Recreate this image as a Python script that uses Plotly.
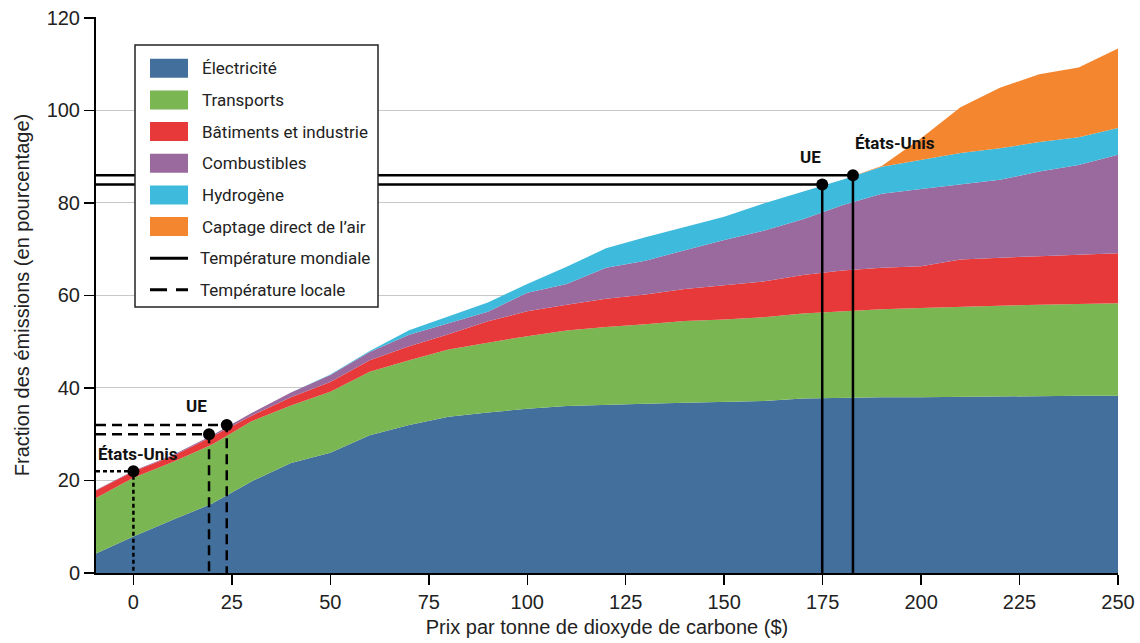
import plotly.graph_objects as go

# Carbon price ($/t CO2)
prix = [-10, 0, 10, 20, 30, 40, 50, 60, 70, 80, 90, 100, 110, 120, 130,
        140, 150, 160, 170, 180, 190, 200, 210, 220, 230, 240, 250]

# Cumulative (stacked) upper boundary of each sector, % of emissions
electricite = [4.0, 7.9, 11.5, 15.0, 19.8, 23.8, 26.0, 29.8, 32.0, 33.8, 34.7, 35.5, 36.1, 36.4,
               36.6, 36.8, 37.0, 37.2, 37.7, 37.9, 38.0, 38.0, 38.1, 38.2, 38.2, 38.3, 38.3]
transports = [16.0, 20.6, 24.0, 27.8, 32.8, 36.2, 39.2, 43.5, 46.0, 48.3, 49.8, 51.2, 52.4, 53.2,
              53.8, 54.5, 54.8, 55.3, 56.1, 56.6, 57.0, 57.3, 57.6, 57.8, 58.0, 58.2, 58.3]
batiments = [17.6, 22.0, 25.3, 29.5, 34.0, 38.0, 41.3, 46.0, 49.0, 51.6, 54.4, 56.6, 58.0, 59.3,
             60.2, 61.4, 62.2, 63.0, 64.4, 65.4, 66.0, 66.3, 67.8, 68.2, 68.5, 68.8, 69.1]
combustibles = [17.7, 22.1, 25.5, 29.8, 34.6, 39.0, 42.8, 47.8, 51.5, 54.0, 56.5, 60.6, 62.5, 66.0,
                67.5, 69.8, 72.0, 74.0, 76.5, 79.5, 82.0, 83.0, 84.0, 85.0, 86.8, 88.2, 90.4]
hydrogene = [17.7, 22.1, 25.5, 29.8, 34.6, 39.0, 42.9, 48.0, 52.5, 55.5, 58.5, 62.5, 66.2, 70.2,
             72.6, 74.8, 77.0, 79.9, 82.5, 85.0, 87.8, 89.3, 90.8, 91.8, 93.2, 94.2, 96.2]
captage = [17.7, 22.1, 25.5, 29.8, 34.6, 39.0, 42.9, 48.0, 52.5, 55.5, 58.5, 62.5, 66.2, 70.2,
           72.6, 74.8, 77.0, 79.9, 82.5, 85.0, 88.0, 94.0, 100.7, 104.9, 107.8, 109.3, 113.4]

secteurs = ["Électricité", "Transports", "Bâtiments et industrie", "Combustibles",
            "Hydrogène", "Captage direct de l’air"]
couleurs = ["#426f9b", "#7ab651", "#e8393a", "#9a6a9f", "#3dbadc", "#f4862f"]
lignes = ["Température mondiale", "Température locale"]

# Break-even points (carbon price, emission fraction)
mondiale_x = [174.9, 182.7]   # UE, États-Unis
mondiale_y = [84.0, 86.0]
locale_ue_x = [19.2, 23.7]
locale_ue_y = [30.0, 32.0]
locale_us_x = [0.0]
locale_us_y = [22.0]

x_ticks = [0, 25, 50, 75, 100, 125, 150, 175, 200, 225, 250]
y_ticks = [0, 20, 40, 60, 80, 100, 120]
X_MIN, X_MAX = -9.5, 250
Y_MIN, Y_MAX = 0, 120.2

fig = go.Figure()

series = [electricite, transports, batiments, combustibles, hydrogene, captage]
for i, (nom, vals, col) in enumerate(zip(secteurs, series, couleurs)):
    fig.add_trace(go.Scatter(
        x=prix, y=vals, name=nom, mode="lines",
        line=dict(width=0, color=col), fillcolor=col,
        fill="tozeroy" if i == 0 else "tonexty",
        showlegend=False, hoverinfo="skip"))

def guide(xs, ys, dash):
    for px, py in zip(xs, ys):
        fig.add_trace(go.Scatter(
            x=[X_MIN, px, px], y=[py, py, 0], mode="lines",
            line=dict(color="black", width=2.5, dash=dash),
            showlegend=False, hoverinfo="skip"))

guide(mondiale_x, mondiale_y, "solid")
guide(locale_ue_x, locale_ue_y, "10px,6px")
guide(locale_us_x, locale_us_y, "4px,3px")

fig.add_trace(go.Scatter(
    x=mondiale_x + locale_ue_x + locale_us_x,
    y=mondiale_y + locale_ue_y + locale_us_y,
    mode="markers", marker=dict(color="black", size=12),
    showlegend=False, hoverinfo="skip", cliponaxis=False))

lab = dict(font=dict(family="Roboto", size=17, color="#111"), showarrow=False)
fig.add_annotation(x=16.0, y=36.0, text="<b>UE</b>", **lab)
fig.add_annotation(x=1.1, y=25.7, text="<b>États-Unis</b>", **lab)
fig.add_annotation(x=171.8, y=89.9, text="<b>UE</b>", **lab)
fig.add_annotation(x=193.3, y=93.0, text="<b>États-Unis</b>", **lab)

# ---- custom legend (paper coordinates of the plot area) ----
PX0, PX1, PY0, PY1 = 96.0, 1118.0, 17.0, 573.0
def xp(px):
    return (px - PX0) / (PX1 - PX0)
def yp(py):
    return (PY1 - py) / (PY1 - PY0)

shapes = [dict(type="rect", xref="paper", yref="paper",
               x0=xp(135), x1=xp(378), y0=yp(307), y1=yp(45),
               line=dict(color="#222", width=1.5), fillcolor="white", layer="above")]
row0, pas = 68.3, 31.65
for i, (nom, col) in enumerate(zip(secteurs, couleurs)):
    cy = row0 + pas * i
    shapes.append(dict(type="rect", xref="paper", yref="paper",
                       x0=xp(150), x1=xp(188), y0=yp(cy + 9.5), y1=yp(cy - 9.5),
                       line=dict(width=0), fillcolor=col, layer="above"))
    fig.add_annotation(xref="paper", yref="paper", x=xp(200), y=yp(cy), text=nom,
                       xanchor="left", yanchor="middle", showarrow=False,
                       font=dict(family="Roboto", size=17, color="#222"))
for j, nom in enumerate(lignes):
    cy = row0 + pas * (len(secteurs) + j)
    shapes.append(dict(type="line", xref="paper", yref="paper",
                       x0=xp(150), x1=xp(188), y0=yp(cy), y1=yp(cy),
                       line=dict(color="black", width=3,
                                 dash="solid" if j == 0 else "17px,9px"),
                       layer="above"))
    fig.add_annotation(xref="paper", yref="paper", x=xp(198), y=yp(cy), text=nom,
                       xanchor="left", yanchor="middle", showarrow=False,
                       font=dict(family="Roboto", size=17, color="#222"))

fig.update_layout(
    width=1140, height=643,
    margin=dict(l=96, r=22, t=17, b=70),
    paper_bgcolor="white", plot_bgcolor="white",
    showlegend=False,
    shapes=shapes,
    xaxis=dict(
        range=[X_MIN, X_MAX], tickvals=x_ticks, automargin=False,
        showline=True, linecolor="black", linewidth=2,
        ticks="outside", ticklen=10, tickwidth=1.5, tickcolor="black",
        showgrid=False, zeroline=False, ticklabeloverflow="allow",
        tickfont=dict(family="Liberation Sans, Arial", size=20, color="#222"),
        title=dict(text="Prix par tonne de dioxyde de carbone ($)",
                   font=dict(family="Liberation Sans, Arial", size=20, color="#222"),
                   standoff=8)),
    yaxis=dict(
        range=[Y_MIN, Y_MAX], tickvals=y_ticks, automargin=False,
        showline=True, linecolor="black", linewidth=2,
        ticks="outside", ticklen=10, tickwidth=1.5, tickcolor="black",
        showgrid=True, gridcolor="#c8c8c8", gridwidth=1, zeroline=False,
        ticklabeloverflow="allow",
        tickfont=dict(family="Liberation Sans, Arial", size=20, color="#222"),
        title=dict(text="Fraction des émissions (en pourcentage)",
                   font=dict(family="Liberation Sans, Arial", size=20, color="#222"),
                   standoff=12)),
)

fig.write_html("out.html",
               config={"displayModeBar": False, "staticPlot": True},
               post_script="document.body.style.margin='0';document.body.style.overflow='hidden';")
